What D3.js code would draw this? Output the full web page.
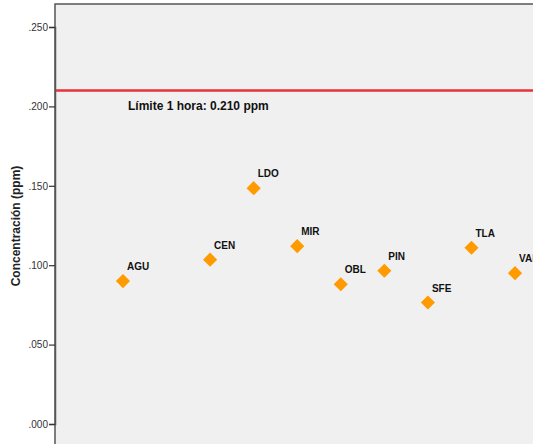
<!DOCTYPE html>
<html><head><meta charset="utf-8">
<script src="https://cdn.jsdelivr.net/npm/d3@7"></script>
<style>body{margin:0;background:#fff;}svg{display:block;}</style>
</head><body>
<svg id="c" width="533" height="444"></svg>
<script>
const stations = ["AGU","ATM","CEN","LDO","MIR","OBL","PIN","SFE","TLA","VAL"];
const values   = [0.090, null, 0.1035, 0.1485, 0.112, 0.088, 0.0965, 0.0765, 0.111, 0.095];
const yTicks   = [0, 0.05, 0.10, 0.15, 0.20, 0.25];
const limitValue = 0.210;
const limitLabel = "Límite 1 hora: 0.210 ppm";
const yTitle = "Concentración (ppm)";

const svg = d3.select("#c");
const L = 55, T = 4, R = 583, B = 470;
const x = d3.scalePoint().domain(stations).range([L, R]).padding(1.56);
const y = d3.scaleLinear().domain([0, 0.25]).range([424, 27]);

svg.append("rect").attr("x", L).attr("y", T).attr("width", R - L).attr("height", B - T)
  .attr("fill", "#f0f0f0").attr("stroke", "#555").attr("stroke-width", 1.5);

const ax = svg.append("g").attr("transform", `translate(${L},0)`)
  .call(d3.axisLeft(y).tickValues(yTicks).tickSize(6).tickPadding(1)
    .tickFormat(d => d3.format(".3f")(d).replace(/^0/, "")));
ax.select(".domain").attr("stroke", "#555").attr("stroke-width", 1.5);
ax.selectAll(".tick line").attr("stroke", "#333").attr("stroke-width", 1.2);
ax.selectAll(".tick text").attr("font-family", "Arial, 'Liberation Sans', sans-serif")
  .attr("font-size", 10).attr("fill", "#333");

svg.append("text").attr("transform", `translate(20,${(y(0)+T)/2+12}) rotate(-90)`)
  .attr("text-anchor", "middle").attr("font-family", "Arial, 'Liberation Sans', sans-serif")
  .attr("font-weight", "bold").attr("font-size", 12).attr("fill", "#222").text(yTitle);

svg.append("line").attr("x1", L + 1).attr("x2", 533).attr("y1", y(limitValue)).attr("y2", y(limitValue))
  .attr("stroke", "#e8323a").attr("stroke-width", 2.5);
svg.append("text").attr("x", 128).attr("y", y(limitValue) + 19)
  .attr("font-family", "Arial, 'Liberation Sans', sans-serif").attr("font-weight", "bold")
  .attr("font-size", 12).attr("fill", "#111").text(limitLabel);

const data = stations.map((s, i) => ({s, v: values[i]})).filter(d => d.v != null);
const sym = d3.symbol().type(d3.symbolSquare).size(100);
svg.selectAll("path.pt").data(data).join("path").attr("class", "pt")
  .attr("d", sym)
  .attr("transform", d => `translate(${x(d.s)},${y(d.v)}) rotate(45)`)
  .attr("fill", "#ff9a00");
svg.selectAll("text.lb").data(data).join("text").attr("class", "lb")
  .attr("x", d => x(d.s) + 4).attr("y", d => y(d.v) - 11)
  .attr("font-family", "Arial, 'Liberation Sans', sans-serif").attr("font-weight", "bold")
  .attr("font-size", 10).attr("fill", "#111").text(d => d.s);
</script>
</body></html>
